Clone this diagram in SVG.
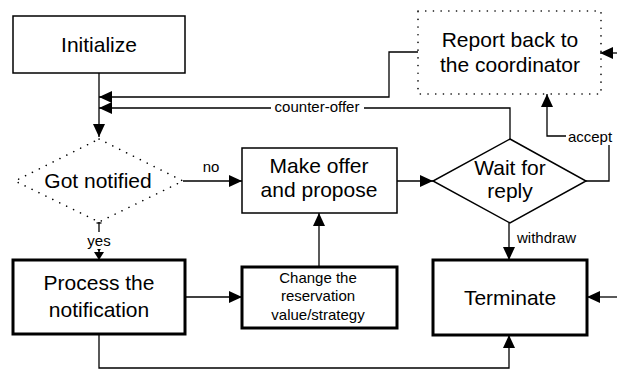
<svg xmlns="http://www.w3.org/2000/svg" width="617" height="371" viewBox="0 0 617 371">
  <style>
    .box { fill: #fff; stroke: #000; stroke-width: 1.5; }
    .thick { fill: #fff; stroke: #000; stroke-width: 3; }
    .dotted { fill: none; stroke: #000; stroke-width: 1.6; stroke-dasharray: 0.1 7.6; stroke-linecap: round; }
    .diamond { fill: #fff; stroke: #000; stroke-width: 1.5; stroke-linejoin: miter; }
    .conn { fill: none; stroke: #000; stroke-width: 1.3; }
    .arrow { marker-end: url(#head); }
    .big { font-family: "Liberation Sans", Arial, sans-serif; font-size: 21px; fill: #000; text-anchor: middle; }
    .mid { font-family: "Liberation Sans", Arial, sans-serif; font-size: 15px; fill: #000; text-anchor: middle; }
    .lbl { font-family: "Liberation Sans", Arial, sans-serif; font-size: 15px; fill: #000; }
    .bg { fill: #fff; }
  </style>
  <defs>
    <marker id="head" markerUnits="userSpaceOnUse" markerWidth="14" markerHeight="12" refX="13" refY="6" orient="auto">
      <path d="M0,0 L13,6 L0,12 Z" fill="#000"/>
    </marker>
    <marker id="small" markerUnits="userSpaceOnUse" markerWidth="9" markerHeight="10" refX="8" refY="5" orient="auto">
      <path d="M0,0 L8,5 L0,10 Z" fill="#000"/>
    </marker>
  </defs>

  <rect width="617" height="371" fill="#fff"/>

  <!-- connectors -->
  <g id="connectors">
    <!-- Initialize -> Got notified -->
    <path class="conn arrow" d="M99,73 L99,137"/>
    <!-- Report back -> loop entry -->
    <path class="conn arrow" d="M418,52 L389,52 L389,97 L99,97"/>
    <!-- Wait for reply -> loop entry (counter-offer) -->
    <path class="conn arrow" d="M510,139 L510,108 L99,108"/>
    <rect class="bg" x="271" y="101" width="93" height="14"/>
    <text class="lbl" x="317" y="112" text-anchor="middle">counter-offer</text>
    <!-- Got notified -> Make offer (no) -->
    <path class="conn arrow" d="M183,181 L242,181"/>
    <text class="lbl" x="211" y="172" text-anchor="middle">no</text>
    <!-- Got notified -> Process (yes) -->
    <path class="conn" d="M99,222 L99,252" marker-end="url(#small)"/>
    <path class="conn" d="M96.5,223 L101.5,223"/>
    <rect class="bg" x="86" y="232" width="26" height="17"/>
    <text class="lbl" x="99" y="246" text-anchor="middle">yes</text>
    <path d="M94,252 L104,252 L99,260 Z" fill="#000"/>
    <!-- Make offer -> Wait for reply -->
    <path class="conn arrow" d="M397,181 L433,181"/>
    <!-- Wait for reply -> Report back (accept) -->
    <path class="conn arrow" d="M586,181 L609,181 L609,136 L547,136 L547,94"/>
    <rect class="bg" x="566" y="128" width="48" height="17"/>
    <text class="lbl" x="590" y="142" text-anchor="middle">accept</text>
    <!-- incoming from the right into Report back -->
    <path class="conn arrow" d="M617,53 L600,53"/>
    <!-- Wait for reply -> Terminate (withdraw) -->
    <path class="conn arrow" d="M509,223 L509,260"/>
    <text class="lbl" x="517" y="243">withdraw</text>
    <!-- incoming from the right into Terminate -->
    <path class="conn arrow" d="M617,297 L587,297"/>
    <!-- Process -> Change -->
    <path class="conn arrow" d="M185,297 L242,297"/>
    <!-- Change -> Make offer -->
    <path class="conn arrow" d="M319,267 L319,213"/>
    <!-- Process -> Terminate -->
    <path class="conn arrow" d="M99,334 L99,368 L509,368 L509,335"/>
  </g>

  <g id="initialize">
    <rect class="box" x="13" y="16" width="172" height="57"/>
    <text class="big" x="99" y="52">Initialize</text>
  </g>

  <g id="report">
    <rect class="dotted" x="418" y="11" width="183" height="83"/>
    <text class="big" x="510" y="47">Report back to</text>
    <text class="big" x="510" y="72">the coordinator</text>
  </g>

  <g id="got-notified">
    <path class="dotted" d="M99,139 L183,181 L99,222 L15,181 Z"/>
    <text class="big" x="98" y="188">Got notified</text>
  </g>

  <g id="make-offer">
    <rect class="box" x="242" y="148" width="155" height="65"/>
    <text class="big" x="319" y="173">Make offer</text>
    <text class="big" x="319" y="197">and propose</text>
  </g>

  <g id="wait-reply">
    <path class="diamond" d="M510,139 L586,181 L510,223 L433,181 Z"/>
    <text class="big" x="510" y="175">Wait for</text>
    <text class="big" x="510" y="198">reply</text>
  </g>

  <g id="process">
    <rect class="thick" x="13" y="260" width="172" height="74"/>
    <text class="big" x="99" y="290">Process the</text>
    <text class="big" x="99" y="317">notification</text>
  </g>

  <g id="change">
    <rect class="thick" x="242" y="267" width="155" height="61"/>
    <text class="mid" x="318" y="283">Change the</text>
    <text class="mid" x="318" y="301">reservation</text>
    <text class="mid" x="318" y="320">value/strategy</text>
  </g>

  <g id="terminate">
    <rect class="thick" x="433" y="260" width="154" height="75"/>
    <text class="big" x="510" y="305">Terminate</text>
  </g>
</svg>
